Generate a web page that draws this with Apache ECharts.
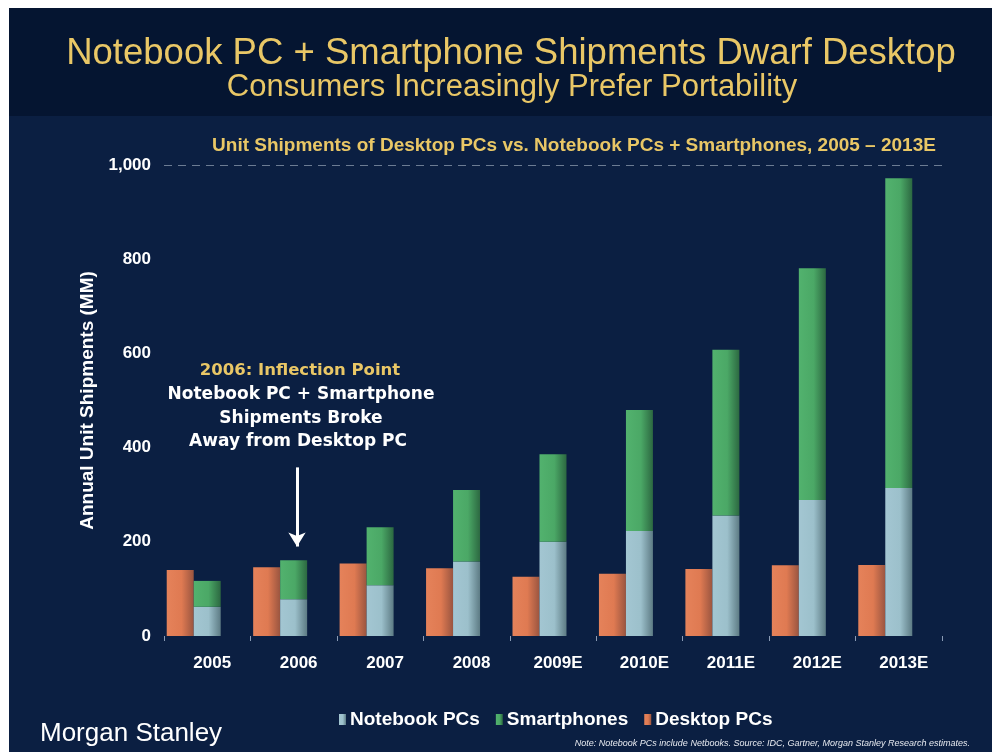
<!DOCTYPE html>
<html>
<head>
<meta charset="utf-8">
<script src="https://cdn.jsdelivr.net/npm/echarts@6/dist/echarts.min.js"></script>
<style>
html,body{margin:0;padding:0;background:#ffffff;}
#wrap{position:absolute;left:0;top:0;width:992px;height:752px;background:#ffffff;}
#band{position:absolute;left:9px;top:8px;width:983px;height:108px;background:#051531;}
#area{position:absolute;left:9px;top:116px;width:983px;height:636px;background:#0b1f42;}
#chart{position:absolute;left:0;top:0;width:992px;height:752px;}
</style>
</head>
<body>
<div id="wrap"><div id="band"></div><div id="area"></div><div id="chart"></div></div>
<script>
const categories = ['2005','2006','2007','2008','2009E','2010E','2011E','2012E','2013E'];
const desktopPCs = [140,146,154,144,126,132,142,150,151];
const notebookPCs = [62,78,108,158,200,223,256,289,314];
const smartphones = [55,83,123,152,186,257,352,492,658];
const yTicks = [0,200,400,600,800,1000];

const gold = '#e9c766';
function grad(c1, c2, c3) {
  return new echarts.graphic.LinearGradient(0,0,1,0,[
    {offset:0,color:c1},{offset:0.55,color:c2},{offset:1,color:c3}
  ]);
}
const cDesk = grad('#e5825a','#df7a52','#9a5540');
const cNote = grad('#a3c6d2','#9cc0cb','#5d7b84');
const cSmart = grad('#52b26e','#4ba866','#2c6841');
const bold = {color:'#ffffff', fontWeight:'bold', fontFamily:'Liberation Sans'};

const chart = echarts.init(document.getElementById('chart'), null, {renderer:'canvas'});
const option = {
  backgroundColor: 'transparent',
  animation: false,
  title: [
    {text:'Notebook PC + Smartphone Shipments Dwarf Desktop', left:506, textAlign:'center', top:30,
     textStyle:{color:gold, fontSize:36.5, fontWeight:'normal', fontFamily:'Liberation Sans'}},
    {text:'Consumers Increasingly Prefer Portability', left:507, textAlign:'center', top:67,
     textStyle:{color:gold, fontSize:31, fontWeight:'normal', fontFamily:'Liberation Sans'}},
    {text:'Unit Shipments of Desktop PCs vs. Notebook PCs + Smartphones, 2005 \u2013 2013E', left:569, textAlign:'center', top:131,
     textStyle:{color:gold, fontSize:19, fontWeight:'bold', fontFamily:'Liberation Sans'}}
  ],
  legend: {
    data:['Notebook PCs','Smartphones','Desktop PCs'],
    left:334, top:705, itemWidth:7, itemHeight:11, itemGap:16,
    textStyle:{color:'#ffffff', fontSize:19, fontWeight:'bold', fontFamily:'Liberation Sans', padding:[0,0,0,-1]},
    icon:'rect'
  },
  grid: {left:164, right:50, top:165, bottom:116, containLabel:false},
  xAxis: {
    type:'category', data:categories,
    axisLine:{show:false},
    axisTick:{show:true, length:5, lineStyle:{color:'#8a9bb5'}},
    axisLabel:Object.assign({fontSize:17, margin:19, padding:[0,0,0,10]}, bold)
  },
  yAxis: {
    type:'value', min:0, max:1000, interval:200,
    name:'Annual Unit Shipments (MM)', nameLocation:'middle', nameGap:65,
    nameTextStyle:Object.assign({fontSize:19}, bold),
    axisLine:{show:false}, axisTick:{show:false},
    axisLabel:Object.assign({fontSize:17, margin:13,
      formatter:function(v){return v.toLocaleString('en-US');}}, bold),
    splitLine:{show:true, lineStyle:{type:[8,6], width:1,
      color:yTicks.map(function(t){return t===1000?'rgba(190,200,215,0.55)':'rgba(0,0,0,0)';})}}
  },
  series: [
    {name:'Desktop PCs', type:'bar', data:desktopPCs, barWidth:27, barGap:'0%',
     itemStyle:{color:cDesk}},
    {name:'Notebook PCs', type:'bar', stack:'port', data:notebookPCs, barWidth:27, barGap:'0%',
     itemStyle:{color:cNote},
     markLine:{silent:true, symbol:['none','arrow'], symbolSize:[13,14], label:{show:false},
       lineStyle:{color:'#ffffff', width:3, type:'solid'},
       data:[[{xAxis:'2006', yAxis:358, x:297},{xAxis:'2006', yAxis:190, x:297}]]}},
    {name:'Smartphones', type:'bar', stack:'port', data:smartphones, barWidth:27, barGap:'0%',
     itemStyle:{color:cSmart}},
    {name:'spacer', type:'bar', data:categories.map(function(){return null;}), barWidth:27, barGap:'0%', silent:true}
  ],
  graphic: [
    {type:'text', style:{x:300, y:371, text:'2006: Inflection Point', fill:gold, fontSize:16.5, fontWeight:'bold', fontFamily:'DejaVu Sans', align:'center', verticalAlign:'middle'}},
    {type:'text', style:{x:301, y:395, text:'Notebook PC + Smartphone', fill:'#ffffff', fontSize:17, fontWeight:'bold', fontFamily:'DejaVu Sans', align:'center', verticalAlign:'middle'}},
    {type:'text', style:{x:301, y:419, text:'Shipments Broke', fill:'#ffffff', fontSize:17, fontWeight:'bold', fontFamily:'DejaVu Sans', align:'center', verticalAlign:'middle'}},
    {type:'text', style:{x:298, y:442, text:'Away from Desktop PC', fill:'#ffffff', fontSize:17, fontWeight:'bold', fontFamily:'DejaVu Sans', align:'center', verticalAlign:'middle'}},
    {type:'text', style:{x:40, y:734, text:'Morgan Stanley', fill:'#ffffff', fontSize:26, fontFamily:'Liberation Sans Narrow, Liberation Sans', align:'left', verticalAlign:'middle'}},
    {type:'text', style:{x:970, y:743, text:'Note: Notebook PCs include Netbooks. Source: IDC, Gartner, Morgan Stanley Research estimates.', fill:'#e6e9ef', fontSize:9, fontStyle:'italic', fontFamily:'Liberation Sans', align:'right', verticalAlign:'middle'}}
  ]
};
chart.setOption(option);
</script>
</body>
</html>
